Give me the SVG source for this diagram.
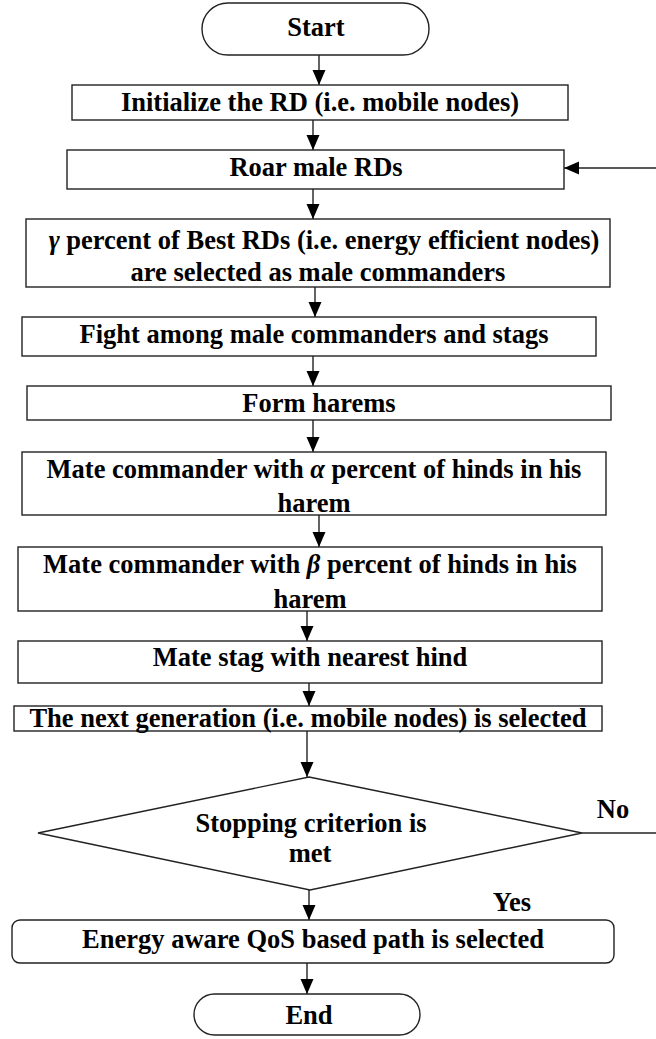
<svg xmlns="http://www.w3.org/2000/svg" width="656" height="1039" viewBox="0 0 656 1039">
<defs>
<style>
.box{fill:#fff;stroke:#222;stroke-width:1.4}
text{fill:#000;text-anchor:middle}
.g{font-style:italic}
.c{stroke:#222;stroke-width:1.4;fill:none}
</style>
<marker id="ah" markerUnits="userSpaceOnUse" markerWidth="16" markerHeight="14" refX="15" refY="6.5" orient="auto">
<path d="M0,0 L15,6.5 L0,13 Z" fill="#000"/>
</marker>
</defs>
<rect width="656" height="1039" fill="#fff"/>
<g font-family="Liberation Serif, Times New Roman, serif" font-weight="bold" font-size="26.5">
<g id="connectors">
<line class="c" x1="319" y1="55" x2="319" y2="85" marker-end="url(#ah)"/>
<line class="c" x1="313" y1="120" x2="313" y2="150" marker-end="url(#ah)"/>
<line class="c" x1="313" y1="189" x2="313" y2="219" marker-end="url(#ah)"/>
<line class="c" x1="315" y1="287" x2="315" y2="317" marker-end="url(#ah)"/>
<line class="c" x1="313" y1="356" x2="313" y2="386" marker-end="url(#ah)"/>
<line class="c" x1="313" y1="420" x2="313" y2="452" marker-end="url(#ah)"/>
<line class="c" x1="319" y1="515" x2="319" y2="547" marker-end="url(#ah)"/>
<line class="c" x1="307" y1="611" x2="307" y2="641" marker-end="url(#ah)"/>
<line class="c" x1="309" y1="683" x2="309" y2="706" marker-end="url(#ah)"/>
<line class="c" x1="307" y1="731" x2="307" y2="777" marker-end="url(#ah)"/>
<line class="c" x1="309" y1="890" x2="309" y2="920" marker-end="url(#ah)"/>
<line class="c" x1="307" y1="963" x2="307" y2="994" marker-end="url(#ah)"/>
<line class="c" x1="656" y1="168" x2="564" y2="168" marker-end="url(#ah)"/>
<line class="c" x1="582" y1="833" x2="656" y2="833"/>
<text x="613" y="818">No</text>
<text x="512" y="911">Yes</text>
</g>
<g id="start">
<rect class="box" x="202" y="3" width="227" height="52" rx="26" ry="26"/>
<text x="316" y="36">Start</text>
</g>
<g id="init">
<rect class="box" x="72" y="85" width="496" height="35"/>
<text x="320" y="111">Initialize the RD (i.e. mobile nodes)</text>
</g>
<g id="roar">
<rect class="box" x="67" y="150" width="497" height="39"/>
<text x="316" y="176">Roar male RDs</text>
</g>
<g id="gamma">
<rect class="box" x="26" y="219" width="584" height="68"/>
<text x="324" y="249"><tspan class="g">γ</tspan> percent of Best RDs (i.e. energy efficient nodes)</text>
<text x="318" y="281">are selected as male commanders</text>
</g>
<g id="fight">
<rect class="box" x="22" y="317" width="574" height="39"/>
<text x="314" y="343">Fight among male commanders and stags</text>
</g>
<g id="form">
<rect class="box" x="27" y="386" width="584" height="34"/>
<text x="319" y="412">Form harems</text>
</g>
<g id="alpha">
<rect class="box" x="22" y="452" width="584" height="63"/>
<text x="314" y="478">Mate commander with <tspan class="g">α</tspan> percent of hinds in his</text>
<text x="314" y="512">harem</text>
</g>
<g id="beta">
<rect class="box" x="18" y="547" width="584" height="64"/>
<text x="310" y="573">Mate commander with <tspan class="g">β</tspan> percent of hinds in his</text>
<text x="310" y="608">harem</text>
</g>
<g id="stag">
<rect class="box" x="18" y="641" width="584" height="42"/>
<text x="310" y="666">Mate stag with nearest hind</text>
</g>
<g id="nextgen">
<rect class="box" x="14" y="706" width="588" height="25"/>
<text x="308" y="727">The next generation (i.e. mobile nodes) is selected</text>
</g>
<g id="decision">
<polygon class="box" points="309,777 582,833 310,890 38,833"/>
<text x="311" y="832">Stopping criterion is</text>
<text x="310" y="862">met</text>
</g>
<g id="energy">
<rect class="box" x="12" y="920" width="602" height="43" rx="8" ry="8"/>
<text x="313" y="948">Energy aware QoS based path is selected</text>
</g>
<g id="end">
<rect class="box" x="194" y="994" width="226" height="41" rx="20.5" ry="20.5"/>
<text x="309" y="1024">End</text>
</g>
</g>
</svg>
